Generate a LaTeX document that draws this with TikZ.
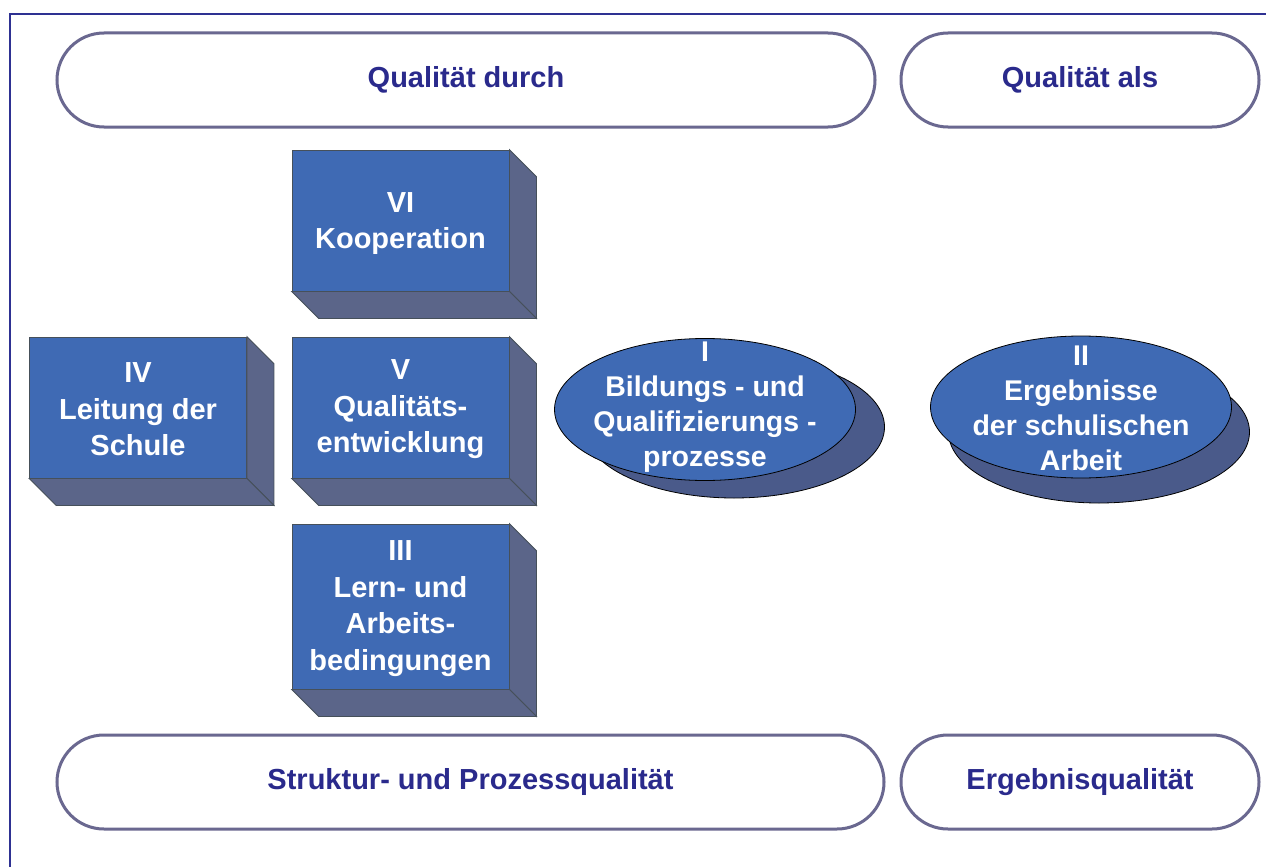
\documentclass[tikz,border=0pt]{standalone}
\usepackage{fontspec}
\setmainfont{Liberation Sans}
\usetikzlibrary{shapes.geometric,calc}
\definecolor{frameblue}{RGB}{46,49,146}
\definecolor{pillline}{RGB}{106,104,144}
\definecolor{textblue}{RGB}{42,42,140}
\definecolor{boxfront}{RGB}{63,106,180}
\definecolor{boxside}{RGB}{91,101,137}
\definecolor{ellshadow}{RGB}{74,90,138}
\definecolor{edgegrey}{RGB}{70,80,90}
\tikzset{
  pill/.style={draw=pillline, line width=3pt, rounded corners=47pt, fill=white, inner sep=0pt,
    font=\fontsize{29}{34}\selectfont\bfseries, text=textblue},
  frontface/.style={draw=edgegrey, line width=0.8pt, fill=boxfront, inner sep=0pt, minimum width=217pt},
  depthface/.style={draw=edgegrey, line width=0.8pt, fill=boxside},
  boxtext/.style={text=white, align=center, font=\fontsize{29}{36.5}\selectfont\bfseries},
  ellfront/.style={ellipse, draw=black, line width=0.8pt, fill=boxfront, inner sep=0pt, minimum width=301pt, minimum height=142pt},
  ellback/.style={ellipse, draw=black, line width=0.8pt, fill=ellshadow, inner sep=0pt, minimum width=301pt, minimum height=142pt},
}
\begin{document}
\begin{tikzpicture}[x=1pt,y=-1pt]
\useasboundingbox (0,0) rectangle (1266,867);
\fill[white] (0,0) rectangle (1266,867);
\coordinate (fb) at (10,867);
\coordinate (fc) at (10,14);
\coordinate (fe) at (1266,14);
\draw[frameblue, line width=2pt] (fb) -- (fc) -- (fe);

% pills
\node[pill, minimum width=818pt, minimum height=94pt] (p1) at (466,80) {Qualität durch};
\node[pill, minimum width=358pt, minimum height=94pt] (p2) at (1080,80) {Qualität als};
\node[pill, minimum width=827pt, minimum height=94pt] (p3) at (470.5,782) {Struktur- und Prozessqualität};
\node[pill, minimum width=358pt, minimum height=94pt] (p4) at (1080,782) {Ergebnisqualität};

% boxes
\node[frontface, minimum height=141pt] (vi) at (400.5,220.5) {};
\node[frontface, minimum height=141pt] (v) at (400.5,407.5) {};
\node[frontface, minimum height=141pt] (iv) at (138,407.5) {};
\node[frontface, minimum height=165pt] (iii) at (400.5,606.5) {};
\foreach \b in {vi,v,iv,iii}{
  \draw[depthface] (\b.north east) -- ($(\b.north east)+(27,27)$) -- ($(\b.south east)+(27,27)$) -- (\b.south east) -- cycle;
  \draw[depthface] (\b.south west) -- (\b.south east) -- ($(\b.south east)+(27,27)$) -- ($(\b.south west)+(27,27)$) -- cycle;
}
\node[boxtext, yshift=-3pt] (tvi) at (vi.center) {VI\\Kooperation};
\node[boxtext, yshift=-2pt] (tv) at (v.center) {V\\Qualitäts-\\entwicklung};
\node[boxtext, yshift=-2pt] (tiv) at (iv.center) {IV\\Leitung der\\Schule};
\node[boxtext, yshift=-2pt] (tiii) at (iii.center) {III\\Lern- und\\Arbeits-\\bedingungen};

% ellipses
\node[ellback] (ish) at (734,427) {};
\node[ellfront] (i) at (705,409.5) {};
\node[boxtext, font=\fontsize{28.5}{34.8}\selectfont\bfseries] (ti) at (705,407) {I\\Bildungs - und\\Qualifizierungs -\\prozesse};
\node[ellback] (iish) at (1099,432) {};
\node[ellfront] (ii) at (1081,407) {};
\node[boxtext, font=\fontsize{28.5}{35}\selectfont\bfseries] (tii) at (1081,408) {II\\Ergebnisse\\der schulischen\\Arbeit};
\end{tikzpicture}
\end{document}
